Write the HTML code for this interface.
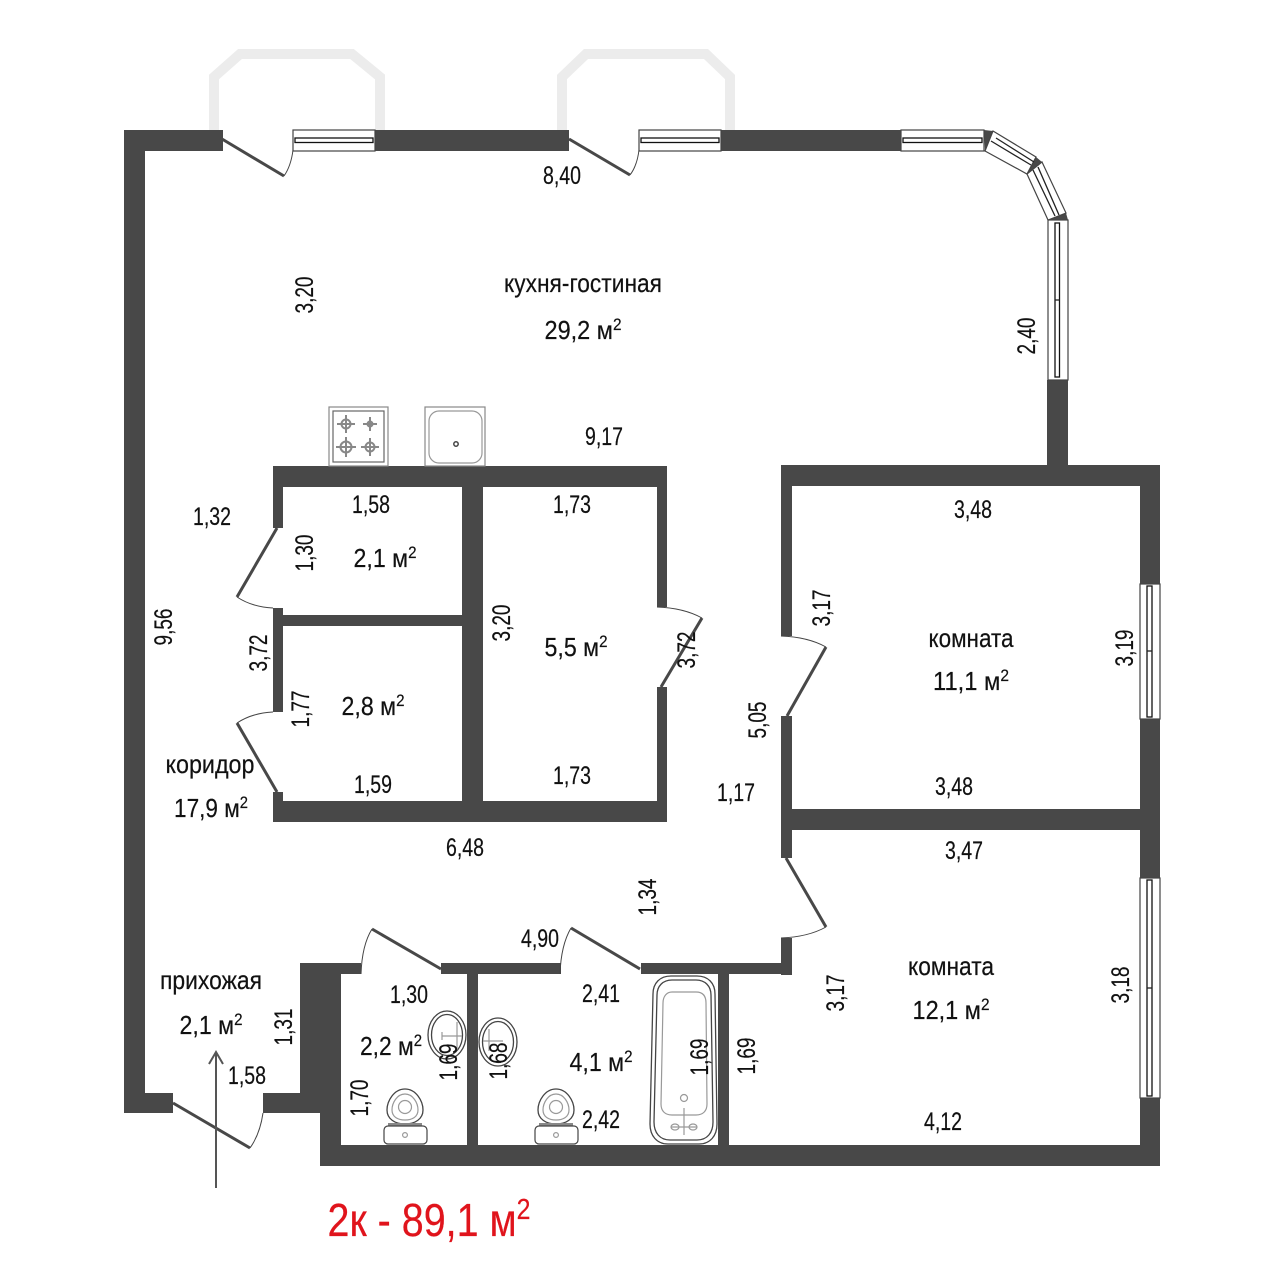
<!DOCTYPE html>
<html><head><meta charset="utf-8"><style>
html,body{margin:0;padding:0;background:#fff}
svg{display:block}
text{font-family:"Liberation Sans",sans-serif;fill:#111;stroke:#111;stroke-width:.2;text-anchor:middle;font-size:25px}
.r{font-size:26px}
.l{fill:none;stroke:#484848;stroke-width:3}
.a{fill:none;stroke:#444;stroke-width:1}
.g{fill:none;stroke:#999;stroke-width:1.2}
.d{fill:none;stroke:#444;stroke-width:1.3}
.gs{fill:none;stroke:#888;stroke-width:2}
.w{fill:#fff;stroke:#444;stroke-width:1.2}
</style></head><body>
<svg width="1284" height="1284" viewBox="0 0 1284 1284" xmlns="http://www.w3.org/2000/svg">
<rect width="1284" height="1284" fill="#fff"/>
<!-- balconies -->
<g fill="none" stroke="#ececec" stroke-width="10">
<polyline points="214,130 214,77 240,54 352,54 380,77 380,130"/>
<polyline points="562,130 562,77 586,54 706,54 730,77 730,130"/>
</g>
<!-- walls -->
<g fill="#484848">
<rect x="124" y="130" width="99" height="21"/>
<rect x="375" y="130" width="194" height="21"/>
<rect x="721" y="130" width="180" height="21"/>
<rect x="124" y="130" width="21" height="983"/>
<rect x="124" y="1093" width="49" height="20"/>
<rect x="263" y="1093" width="78" height="20"/>
<rect x="300" y="963" width="41" height="150"/>
<rect x="320" y="963" width="21" height="203"/>
<rect x="320" y="1145" width="840" height="21"/>
<rect x="300" y="963" width="61" height="11"/>
<rect x="441" y="963" width="120" height="11"/>
<rect x="641" y="963" width="151" height="11"/>
<rect x="467" y="963" width="11" height="182"/>
<rect x="718" y="963" width="11" height="182"/>
<rect x="781" y="465" width="11" height="171"/>
<rect x="781" y="716" width="11" height="142"/>
<rect x="781" y="938" width="11" height="37"/>
<rect x="781" y="465" width="379" height="21"/>
<rect x="1047" y="380" width="21" height="85"/>
<rect x="781" y="809" width="379" height="21"/>
<rect x="1140" y="465" width="20" height="119"/>
<rect x="1140" y="719" width="20" height="159"/>
<rect x="1140" y="1098" width="20" height="68"/>
<rect x="273" y="466" width="394" height="21"/>
<rect x="273" y="466" width="10" height="62"/>
<rect x="273" y="608" width="10" height="104"/>
<rect x="273" y="792" width="10" height="30"/>
<rect x="273" y="801" width="394" height="21"/>
<rect x="283" y="615" width="180" height="11"/>
<rect x="462" y="466" width="21" height="356"/>
<rect x="657" y="466" width="10" height="141"/>
<rect x="657" y="687" width="10" height="135"/>
<!-- corner wedges -->
<polygon points="984,130 993,131 985,151"/>
<polygon points="1036,157 1042,162 1027,174"/>
<polygon points="1066,213 1068,220 1048,220"/>
</g>
<!-- windows -->
<g fill="#fff" stroke="#444" stroke-width="1.2">
<rect x="293" y="130" width="82" height="21"/>
<rect x="639" y="130" width="82" height="21"/>
<rect x="901" y="130" width="83" height="21"/>
<rect x="1048" y="220" width="20" height="160"/>
<rect x="1140" y="584" width="20" height="135"/>
<rect x="1140" y="878" width="20" height="220"/>
<polygon points="993,131 1036,157 1027,174 985,151"/>
<polygon points="1042,162 1066,213 1048,220 1027,174"/>
</g>
<g fill="#fff" stroke="#111" stroke-width="1.3">
<rect x="295" y="138" width="78" height="4.5"/>
<rect x="641" y="138" width="78" height="4.5"/>
<rect x="903" y="138" width="79" height="4.5"/>
<rect x="1055" y="223" width="4.5" height="154"/>
<rect x="1147" y="586" width="5" height="131"/>
<rect x="1147" y="880" width="5" height="216"/>
</g>
<g fill="none" stroke="#222" stroke-width="1.3">
<line x1="1055" y1="300" x2="1059.5" y2="300"/>
<line x1="1147" y1="651" x2="1152" y2="651"/>
<line x1="1147" y1="988" x2="1152" y2="988"/>
<line x1="991" y1="141" x2="1031" y2="165"/>
<line x1="996" y1="138" x2="1034" y2="162"/>
<line x1="1033" y1="170" x2="1055" y2="216"/>
<line x1="1038" y1="167" x2="1059" y2="215"/>
</g>
<!-- doors -->
<g class="l">
<line class="l" x1="222" y1="139" x2="284" y2="176"/>
<line class="l" x1="569" y1="139" x2="630" y2="175"/>
<line class="l" x1="173" y1="1103" x2="250" y2="1148"/>
<line class="l" x1="277" y1="528" x2="237" y2="597"/>
<line class="l" x1="277" y1="792" x2="237" y2="723"/>
<line class="l" x1="661" y1="687" x2="702" y2="618"/>
<line class="l" x1="787" y1="716" x2="826" y2="647"/>
<line class="l" x1="786" y1="858" x2="826" y2="927"/>
<line class="l" x1="441" y1="969" x2="372" y2="929"/>
<line class="l" x1="640" y1="969" x2="571" y2="928"/>
</g>
<path class="a" d="M284,176 Q291,166 293,150"/>
<path class="a" d="M630,175 Q637,166 639,150"/>
<path class="a" d="M250,1148 Q260,1134 263,1113"/>
<path class="a" d="M237,597 Q252,607 273,608"/>
<path class="a" d="M237,723 Q252,713 273,712"/>
<path class="a" d="M702,618 Q684,608 657,607"/>
<path class="a" d="M826,647 Q808,637 781,636"/>
<path class="a" d="M826,927 Q808,937 781,938"/>
<path class="a" d="M372,929 Q362,945 361,974"/>
<path class="a" d="M571,928 Q561,945 560,974"/>
<!-- stove -->
<rect x="329" y="407" width="59" height="59" fill="#fff" stroke="#888" stroke-width="1.2"/>
<rect x="333" y="411" width="51" height="51" fill="#fff" stroke="#666" stroke-width="1.2"/>
<g class="gs">
<circle cx="346" cy="424" r="4.5"/><path d="M337,424h18M346,415v18"/>
<circle cx="370" cy="424" r="2.5"/><path d="M363,424h14M370,417v14"/>
<circle cx="346" cy="447" r="5.5"/><path d="M336,447h20M346,437v20"/>
<circle cx="370" cy="447" r="4.5"/><path d="M361,447h18M370,438v18"/>
</g>
<!-- sink -->
<rect x="425" y="407" width="60" height="59" fill="#fff" stroke="#888" stroke-width="1.2"/>
<rect x="429" y="411" width="53" height="52" rx="10" fill="#fff" stroke="#999" stroke-width="1.2"/>
<circle cx="456" cy="444" r="2.2" fill="none" stroke="#444" stroke-width="1.5"/>
<!-- bath -->
<path class="d" d="M671,976H697C708,976 715,983 715,994L717,1124C717,1136 710,1144 699,1144H668C657,1144 650,1136 650,1124L653,994C653,983 660,976 671,976Z" fill="#fff"/>
<path class="d" d="M672,980H696C705,980 711,986 711,995L713,1122C713,1133 707,1140 697,1140H670C660,1140 654,1133 654,1122L657,995C657,986 663,980 672,980Z"/>
<path class="g" d="M672,992H696C703,992 706,996 706,1003L707,1104C707,1111 703,1115 696,1115H672C665,1115 661,1111 661,1104L663,1003C663,996 667,992 672,992Z"/>
<circle cx="684" cy="1098" r="3.5" class="g"/>
<path class="g" d="M684,1108v27M671,1127h26"/>
<ellipse cx="675" cy="1127" rx="4" ry="3" class="g"/><ellipse cx="693" cy="1127" rx="4" ry="3" class="g"/>
<!-- toilets -->
<g>
<path class="d" d="M405,1089C394,1089 387,1101 387,1110C387,1119 395,1124 405,1124C415,1124 423,1119 423,1110C423,1101 416,1089 405,1089Z" fill="#fff"/>
<path class="g" d="M405,1094C397,1094 392,1103 392,1110C392,1117 398,1120 405,1120C412,1120 418,1117 418,1110C418,1103 413,1094 405,1094Z"/>
<circle cx="405" cy="1107" r="6.5" class="g"/>
<rect x="388" y="1123" width="34" height="3" fill="#888"/>
<rect x="384" y="1126" width="43" height="18" rx="4" class="w"/>
<circle cx="405" cy="1135" r="2.4" class="g"/>
</g>
<g transform="translate(151,0)">
<path class="d" d="M405,1089C394,1089 387,1101 387,1110C387,1119 395,1124 405,1124C415,1124 423,1119 423,1110C423,1101 416,1089 405,1089Z" fill="#fff"/>
<path class="g" d="M405,1094C397,1094 392,1103 392,1110C392,1117 398,1120 405,1120C412,1120 418,1117 418,1110C418,1103 413,1094 405,1094Z"/>
<circle cx="405" cy="1107" r="6.5" class="g"/>
<rect x="388" y="1123" width="34" height="3" fill="#888"/>
<rect x="384" y="1126" width="43" height="18" rx="4" class="w"/>
<circle cx="405" cy="1135" r="2.4" class="g"/>
</g>
<!-- wash basins -->
<ellipse cx="447" cy="1035" rx="19" ry="24" class="d" fill="#fff"/>
<ellipse cx="447" cy="1035" rx="15.5" ry="20.5" class="d"/>
<path class="g" d="M442,1036h20M457,1022v28M442,1032v8"/>
<ellipse cx="498" cy="1042" rx="19" ry="24" class="d" fill="#fff"/>
<ellipse cx="498" cy="1042" rx="15.5" ry="20.5" class="d"/>
<path class="g" d="M483,1041h20M489,1029v22M489,1041h14"/>
<!-- arrow -->
<g fill="none" stroke="#555" stroke-width="2">
<line x1="216" y1="1188" x2="216" y2="1052"/>
<polyline points="209,1064 216,1052 223,1064"/>
</g>
<!-- horizontal numbers -->
<g>
<text x="562" y="184" textLength="38" lengthAdjust="spacingAndGlyphs">8,40</text>
<text x="604" y="445" textLength="38" lengthAdjust="spacingAndGlyphs">9,17</text>
<text x="212" y="525" textLength="38" lengthAdjust="spacingAndGlyphs">1,32</text>
<text x="371" y="513" textLength="38" lengthAdjust="spacingAndGlyphs">1,58</text>
<text x="572" y="513" textLength="38" lengthAdjust="spacingAndGlyphs">1,73</text>
<text x="973" y="518" textLength="38" lengthAdjust="spacingAndGlyphs">3,48</text>
<text x="954" y="795" textLength="38" lengthAdjust="spacingAndGlyphs">3,48</text>
<text x="964" y="859" textLength="38" lengthAdjust="spacingAndGlyphs">3,47</text>
<text x="373" y="793" textLength="38" lengthAdjust="spacingAndGlyphs">1,59</text>
<text x="572" y="784" textLength="38" lengthAdjust="spacingAndGlyphs">1,73</text>
<text x="736" y="801" textLength="38" lengthAdjust="spacingAndGlyphs">1,17</text>
<text x="465" y="856" textLength="38" lengthAdjust="spacingAndGlyphs">6,48</text>
<text x="540" y="947" textLength="38" lengthAdjust="spacingAndGlyphs">4,90</text>
<text x="409" y="1003" textLength="38" lengthAdjust="spacingAndGlyphs">1,30</text>
<text x="601" y="1002" textLength="38" lengthAdjust="spacingAndGlyphs">2,41</text>
<text x="601" y="1128" textLength="38" lengthAdjust="spacingAndGlyphs">2,42</text>
<text x="943" y="1130" textLength="38" lengthAdjust="spacingAndGlyphs">4,12</text>
<text x="247" y="1084" textLength="38" lengthAdjust="spacingAndGlyphs">1,58</text>
</g>
<!-- rotated numbers -->
<g>
<text transform="translate(313,295) rotate(-90)" textLength="37" lengthAdjust="spacingAndGlyphs">3,20</text>
<text transform="translate(1035,336) rotate(-90)" textLength="37" lengthAdjust="spacingAndGlyphs">2,40</text>
<text transform="translate(172,627) rotate(-90)" textLength="37" lengthAdjust="spacingAndGlyphs">9,56</text>
<text transform="translate(267,653) rotate(-90)" textLength="37" lengthAdjust="spacingAndGlyphs">3,72</text>
<text transform="translate(313,553) rotate(-90)" textLength="37" lengthAdjust="spacingAndGlyphs">1,30</text>
<text transform="translate(309,709) rotate(-90)" textLength="37" lengthAdjust="spacingAndGlyphs">1,77</text>
<text transform="translate(510,623) rotate(-90)" textLength="37" lengthAdjust="spacingAndGlyphs">3,20</text>
<text transform="translate(695,650) rotate(-90)" textLength="37" lengthAdjust="spacingAndGlyphs">3,72</text>
<text transform="translate(830,608) rotate(-90)" textLength="37" lengthAdjust="spacingAndGlyphs">3,17</text>
<text transform="translate(766,720) rotate(-90)" textLength="37" lengthAdjust="spacingAndGlyphs">5,05</text>
<text transform="translate(1133,648) rotate(-90)" textLength="37" lengthAdjust="spacingAndGlyphs">3,19</text>
<text transform="translate(1129,985) rotate(-90)" textLength="37" lengthAdjust="spacingAndGlyphs">3,18</text>
<text transform="translate(656,897) rotate(-90)" textLength="37" lengthAdjust="spacingAndGlyphs">1,34</text>
<text transform="translate(844,993) rotate(-90)" textLength="37" lengthAdjust="spacingAndGlyphs">3,17</text>
<text transform="translate(292,1027) rotate(-90)" textLength="37" lengthAdjust="spacingAndGlyphs">1,31</text>
<text transform="translate(457,1062) rotate(-90)" textLength="37" lengthAdjust="spacingAndGlyphs">1,69</text>
<text transform="translate(507,1061) rotate(-90)" textLength="37" lengthAdjust="spacingAndGlyphs">1,68</text>
<text transform="translate(368,1098) rotate(-90)" textLength="37" lengthAdjust="spacingAndGlyphs">1,70</text>
<text transform="translate(708,1057) rotate(-90)" textLength="37" lengthAdjust="spacingAndGlyphs">1,69</text>
<text transform="translate(755,1056) rotate(-90)" textLength="37" lengthAdjust="spacingAndGlyphs">1,69</text>
</g>
<!-- room labels -->
<g>
<text class="r" x="583" y="292" textLength="158" lengthAdjust="spacingAndGlyphs">кухня-гостиная</text>
<text class="r" x="583" y="339" textLength="77" lengthAdjust="spacingAndGlyphs">29,2 м<tspan dy="-9" font-size="17">2</tspan></text>
<text class="r" x="385" y="567" textLength="63" lengthAdjust="spacingAndGlyphs">2,1 м<tspan dy="-9" font-size="17">2</tspan></text>
<text class="r" x="576" y="656" textLength="63" lengthAdjust="spacingAndGlyphs">5,5 м<tspan dy="-9" font-size="17">2</tspan></text>
<text class="r" x="373" y="715" textLength="63" lengthAdjust="spacingAndGlyphs">2,8 м<tspan dy="-9" font-size="17">2</tspan></text>
<text class="r" x="210" y="773" textLength="89" lengthAdjust="spacingAndGlyphs">коридор</text>
<text class="r" x="211" y="817" textLength="74" lengthAdjust="spacingAndGlyphs">17,9 м<tspan dy="-9" font-size="17">2</tspan></text>
<text class="r" x="971" y="647" textLength="85" lengthAdjust="spacingAndGlyphs">комната</text>
<text class="r" x="971" y="690" textLength="76" lengthAdjust="spacingAndGlyphs">11,1 м<tspan dy="-9" font-size="17">2</tspan></text>
<text class="r" x="951" y="975" textLength="86" lengthAdjust="spacingAndGlyphs">комната</text>
<text class="r" x="951" y="1019" textLength="77" lengthAdjust="spacingAndGlyphs">12,1 м<tspan dy="-9" font-size="17">2</tspan></text>
<text class="r" x="211" y="989" textLength="102" lengthAdjust="spacingAndGlyphs">прихожая</text>
<text class="r" x="211" y="1034" textLength="63" lengthAdjust="spacingAndGlyphs">2,1 м<tspan dy="-9" font-size="17">2</tspan></text>
<text class="r" x="391" y="1055" textLength="62" lengthAdjust="spacingAndGlyphs">2,2 м<tspan dy="-9" font-size="17">2</tspan></text>
<text class="r" x="601" y="1071" textLength="63" lengthAdjust="spacingAndGlyphs">4,1 м<tspan dy="-9" font-size="17">2</tspan></text>
<text x="429" y="1236" textLength="203" lengthAdjust="spacingAndGlyphs" style="font-size:46px;fill:#e0141c;stroke:#e0141c">2к - 89,1 м<tspan dy="-17" font-size="29">2</tspan></text>
</g>
</svg>
</body></html>
